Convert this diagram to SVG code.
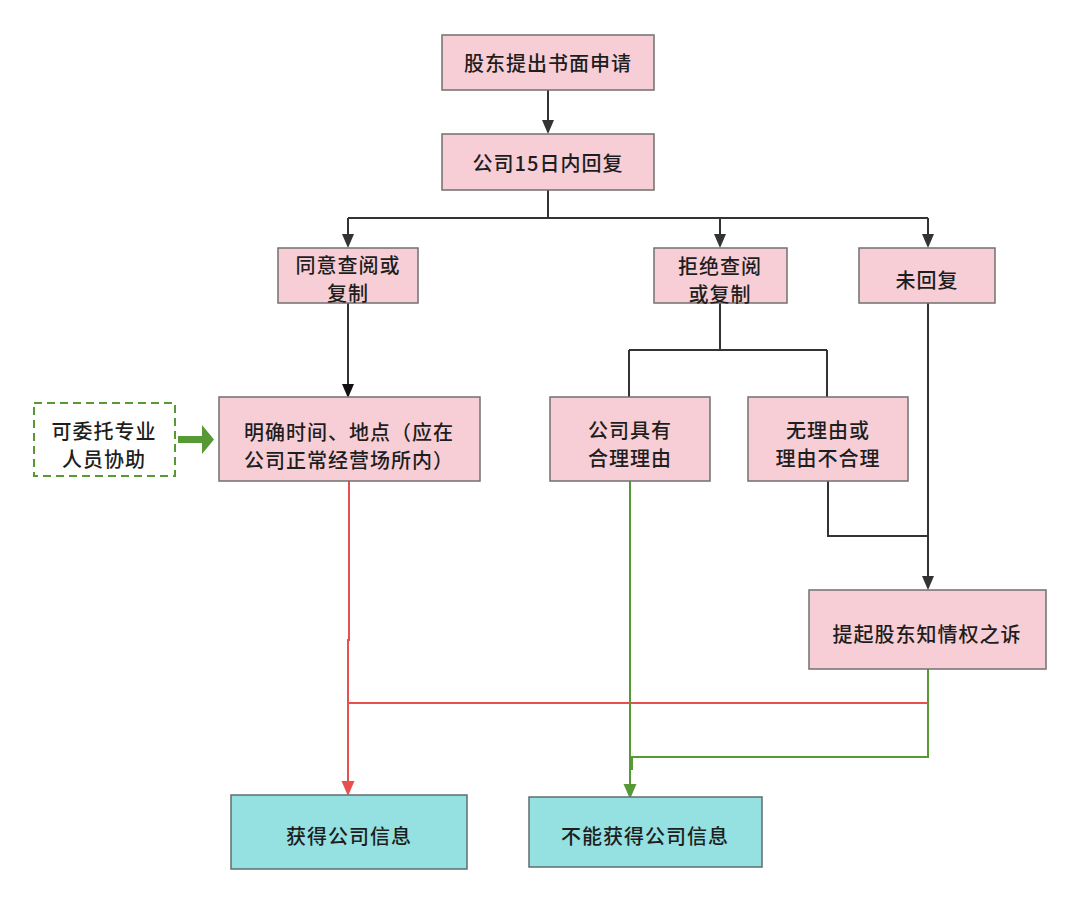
<svg xmlns="http://www.w3.org/2000/svg" width="1080" height="904" viewBox="0 0 1080 904">
<style>
.p{fill:#f8ced6;stroke:#707070;stroke-width:1.5}
.c{fill:#95e0e0;stroke:#5f6e6e;stroke-width:1.5}
.t{font-family:"Noto Sans CJK SC","Liberation Sans",sans-serif;font-size:20px;font-weight:500;fill:#1e1e1e;text-anchor:middle;dominant-baseline:central;letter-spacing:1px}
.k{fill:none;stroke:#333;stroke-width:2}
.r{fill:none;stroke:#e84f4f;stroke-width:2}
.g{fill:none;stroke:#579a35;stroke-width:2}
</style>
<rect width="1080" height="904" fill="#fff"/>
<g id="connectors">
<path class="k" d="M548 90V120" />
<path d="M542 120L554 120L548 134Z" fill="#333"/>
<path class="k" d="M548 190V218M348 218H928M348 218V234M720 218V234M928 218V234"/>
<path d="M342 234L354 234L348 248Z M714 234L726 234L720 248Z M922 234L934 234L928 248Z" fill="#333"/>
<path class="k" d="M348 303V384" stroke="#111"/>
<path d="M342 384L354 384L348 398Z" fill="#111"/>
<path class="k" d="M720 303V350M629 350H827M629 350V397M827 350V397"/>
<path class="k" d="M828 481V536H928M928 303V576"/>
<path d="M922 576L934 576L928 590Z" fill="#333"/>
<path class="r" d="M349 481V640L348 640V782M348 703H928"/>
<path d="M341.5 781L354.5 781L348 796Z" fill="#e84f4f"/>
<path class="g" d="M630 481V784M928 669V757H632V770"/>
<path d="M623.5 784L636.5 784L630 799Z" fill="#579a35"/>
<path d="M178 436H202V425L214 439.5L202 454V443H178Z" fill="#579a35"/>
</g>
<g id="n1"><rect class="p" x="442" y="35" width="212" height="55"/><text class="t" x="548" y="62">股东提出书面申请</text></g>
<g id="n2"><rect class="p" x="442" y="134" width="212" height="56"/><text class="t" x="548" y="162">公司15日内回复</text></g>
<g id="n3"><rect class="p" x="278" y="248" width="140" height="55"/><text class="t" x="348" y="264">同意查阅或</text><text class="t" x="348" y="292">复制</text></g>
<g id="n4"><rect class="p" x="654" y="248" width="133" height="55"/><text class="t" x="720" y="265">拒绝查阅</text><text class="t" x="720" y="293">或复制</text></g>
<g id="n5"><rect class="p" x="859" y="248" width="136" height="55"/><text class="t" x="927" y="279">未回复</text></g>
<g id="n6"><rect x="34" y="403" width="141" height="73" fill="#fff" stroke="#579a35" stroke-width="2" stroke-dasharray="8 5"/><text class="t" x="104" y="430">可委托专业</text><text class="t" x="104" y="458">人员协助</text></g>
<g id="n7"><rect class="p" x="219" y="397" width="261" height="84"/><text class="t" x="349" y="431">明确时间、地点（应在</text><text class="t" x="349" y="459">公司正常经营场所内）</text></g>
<g id="n8"><rect class="p" x="550" y="397" width="160" height="84"/><text class="t" x="630" y="429">公司具有</text><text class="t" x="630" y="457">合理理由</text></g>
<g id="n9"><rect class="p" x="748" y="397" width="160" height="84"/><text class="t" x="828" y="429">无理由或</text><text class="t" x="828" y="457">理由不合理</text></g>
<g id="n10"><rect class="p" x="809" y="590" width="237" height="79"/><text class="t" x="927" y="633">提起股东知情权之诉</text></g>
<g id="n11"><rect class="c" x="231" y="795" width="236" height="74"/><text class="t" x="349" y="835">获得公司信息</text></g>
<g id="n12"><rect class="c" x="529" y="797" width="233" height="70"/><text class="t" x="645" y="835">不能获得公司信息</text></g>
</svg>
